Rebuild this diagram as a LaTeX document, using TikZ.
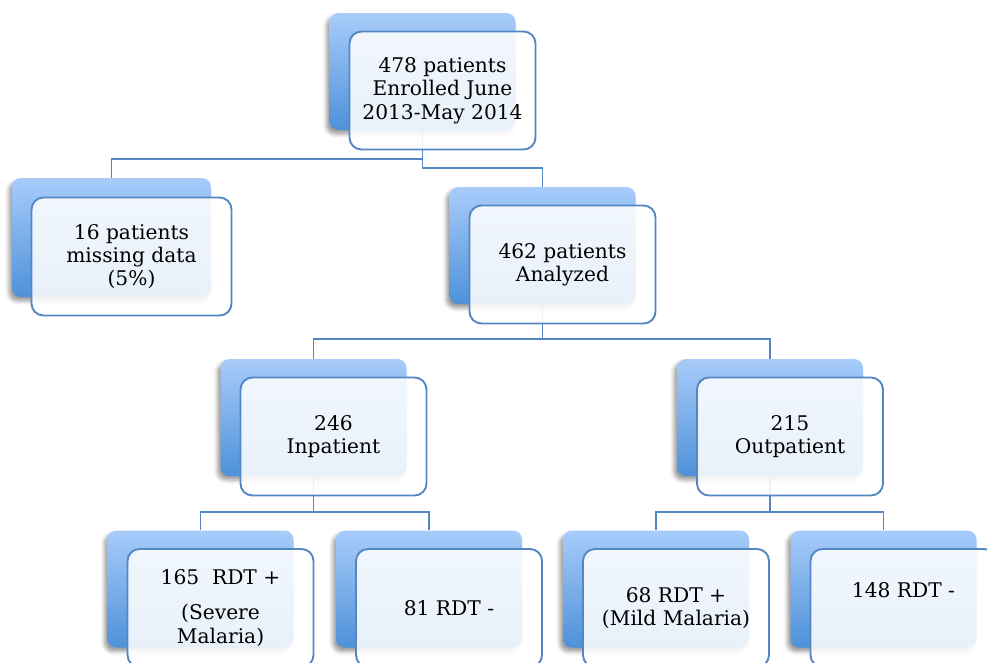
\documentclass[tikz,border=0pt]{standalone}
\usepackage{fontspec}
\setmainfont{DejaVu Serif}
\usetikzlibrary{positioning,shadows.blur}

\definecolor{boxline}{RGB}{84,134,196}
\definecolor{backtop}{RGB}{168,204,250}
\definecolor{backbot}{RGB}{78,145,217}

\tikzset{
  backbox/.style={rounded corners=9pt, top color=backtop, bottom color=backbot,
    minimum width=186pt, minimum height=117pt, inner sep=0pt,
    blur shadow={shadow xshift=-3pt, shadow yshift=-4pt, shadow blur radius=4pt, shadow opacity=40}},
  frontbox/.style={draw=boxline, line width=1.9pt, rounded corners=12pt,
    fill=white, fill opacity=0.87, text opacity=1, align=center,
    minimum width=186pt, minimum height=118pt, inner sep=0pt,
    font=\fontsize{20.2}{23.3}\selectfont},
  link/.style={draw=boxline, line width=1.9pt}
}

\begin{document}
\begin{tikzpicture}[x=1pt,y=-1pt]
  \clip (0,0) rectangle (987,662);

  % Back boxes
  \node[backbox] (topb) at (422.5,71.5) {};
  \node[backbox,minimum width=199pt,minimum height=119pt] (missb) at (111.5,237.5) {};
  \node[backbox] (anab) at (542.5,245.5) {};
  \node[backbox] (inb) at (313.5,417.5) {};
  \node[backbox] (outb) at (770,417.5) {};
  \node[backbox] (sevb) at (200.5,589) {};
  \node[backbox] (innegb) at (429,589) {};
  \node[backbox] (mildb) at (656,589) {};
  \node[backbox] (outnegb) at (883.5,589) {};

  % Connectors
  \draw[link] (topb.south) -- ++(0,29) -| (missb.north);
  \draw[link] (topb.south) -- ++(0,38) -| (anab.north);
  \draw[link] (anab.south) -- ++(0,35) -| (inb.north);
  \draw[link] (anab.south) -- ++(0,35) -| (outb.north);
  \draw[link] (inb.south) -- ++(0,36) -| (sevb.north);
  \draw[link] (inb.south) -- ++(0,36) -| (innegb.north);
  \draw[link] (outb.south) -- ++(0,36) -| (mildb.north);
  \draw[link] (outb.south) -- ++(0,36) -| (outnegb.north);

  % Front boxes
  \node[frontbox] (top) at ([shift={(20,19)}]topb.center) {478 patients\\Enrolled June\\2013-May 2014};
  \node[frontbox,minimum width=200pt] (miss) at ([shift={(20,19)}]missb.center) {16 patients\\missing data\\(5\%)};
  \node[frontbox] (ana) at ([shift={(20,19)}]anab.center) {462 patients\\Analyzed};
  \node[frontbox] (in) at ([shift={(20,19)}]inb.center) {246\\Inpatient};
  \node[frontbox] (out) at ([shift={(20,19)}]outb.center) {215\\Outpatient};
  \node[frontbox] (sev) at ([shift={(20,19)}]sevb.center) {165~~RDT +\\[12pt](Severe\\Malaria)};
  \node[frontbox] (inneg) at ([shift={(20,19)}]innegb.center) {81 RDT -};
  \node[frontbox] (mild) at ([shift={(20,19)}]mildb.center) {68 RDT +\\(Mild Malaria)};
  \node[frontbox] (outneg) at ([shift={(20,19)}]outnegb.center) {\raisebox{36pt}{148 RDT -}};
\end{tikzpicture}
\end{document}
